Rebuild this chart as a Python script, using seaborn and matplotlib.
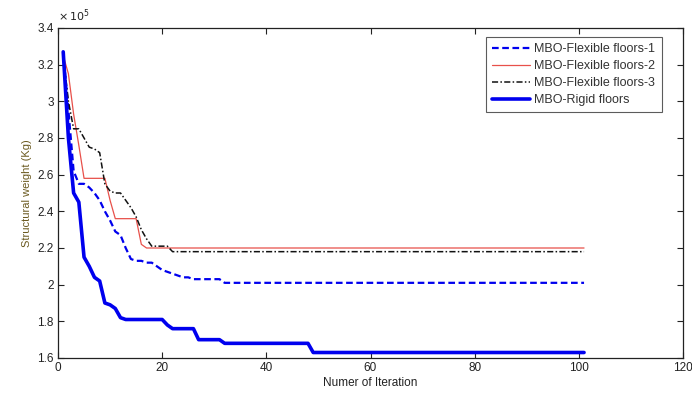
import numpy as np
import pandas as pd
import matplotlib
matplotlib.use("Agg")
import matplotlib.pyplot as plt
import seaborn as sns
from matplotlib.ticker import FuncFormatter, MultipleLocator

iterations = list(range(1, 102))

rigid_head = [3.27, 2.80, 2.50, 2.45, 2.15, 2.10, 2.04, 2.02, 1.90, 1.89, 1.87, 1.82,
              1.81, 1.81, 1.81, 1.81, 1.81, 1.81, 1.81, 1.81, 1.78,
              1.76, 1.76, 1.76, 1.76, 1.76,
              1.70, 1.70, 1.70, 1.70, 1.70,
              1.68, 1.68, 1.68, 1.68, 1.68, 1.68, 1.68, 1.68, 1.68, 1.68, 1.68, 1.68,
              1.68, 1.68, 1.68, 1.68, 1.68]
rigid_tail = 1.63

flex1_head = [3.27, 2.95, 2.62, 2.55, 2.55, 2.53, 2.50, 2.46, 2.40, 2.35, 2.29, 2.27,
              2.20, 2.14, 2.13, 2.13, 2.12, 2.12, 2.10, 2.08, 2.07, 2.06, 2.05, 2.04,
              2.04, 2.03, 2.03, 2.03, 2.03, 2.03, 2.03]
flex1_tail = 2.01

flex2_head = [3.25, 3.15, 2.93, 2.76, 2.58, 2.58, 2.58, 2.58, 2.58, 2.46, 2.36, 2.36,
              2.36, 2.36, 2.36, 2.22]
flex2_tail = 2.20

flex3_head = [3.25, 3.00, 2.85, 2.85, 2.80, 2.75, 2.74, 2.72, 2.55, 2.51, 2.50, 2.50,
              2.46, 2.42, 2.37, 2.30, 2.25, 2.21, 2.21, 2.21, 2.21]
flex3_tail = 2.18

labels = ["MBO-Flexible floors-1", "MBO-Flexible floors-2",
          "MBO-Flexible floors-3", "MBO-Rigid floors"]


def full(head, tail):
    vals = list(head) + [tail] * (len(iterations) - len(head))
    return [v * 1e5 for v in vals]


series = {
    labels[0]: full(flex1_head, flex1_tail),
    labels[1]: full(flex2_head, flex2_tail),
    labels[2]: full(flex3_head, flex3_tail),
    labels[3]: full(rigid_head, rigid_tail),
}

rows = []
for name, vals in series.items():
    for it, v in zip(iterations, vals):
        rows.append({"Iteration": it, "Weight": v, "Series": name})
df = pd.DataFrame(rows)

sns.set_theme(style="white")
plt.rcParams['font.family'] = ['Liberation Sans', 'DejaVu Sans']

fig = plt.figure(figsize=(6.92, 3.98), dpi=100)
ax = fig.add_axes([58 / 692, 40 / 398, 625 / 692, 330 / 398])

styles = {
    labels[0]: dict(color="#0000ee", lw=1.6, ls=(0, (3, 1.6))),
    labels[1]: dict(color="#e8504a", lw=0.9, ls="-"),
    labels[2]: dict(color="#111111", lw=1.1, ls=(0, (4, 1.5, 1, 1.5))),
    labels[3]: dict(color="#0000ee", lw=2.6, ls="-"),
}

for name in labels:
    sub = df[df["Series"] == name]
    st = styles[name]
    sns.lineplot(data=sub, x="Iteration", y="Weight", ax=ax, color=st["color"],
                 linewidth=st["lw"], linestyle=st["ls"], label=name)

ax.set_xlim(0, 120)
ax.set_ylim(1.6e5, 3.4e5)
ax.xaxis.set_major_locator(MultipleLocator(20))
ax.yaxis.set_major_locator(MultipleLocator(0.2e5))
ax.yaxis.set_major_formatter(FuncFormatter(lambda v, p: f"{v / 1e5:g}"))

ax.tick_params(direction="in", length=4, width=0.8, top=True, right=True,
               labelsize=8.5, colors="#222222", pad=3)
ax.tick_params(axis="both", which="both", bottom=True, left=True)
for sp in ax.spines.values():
    sp.set_color("#222222")
    sp.set_linewidth(0.9)

ax.set_xlabel("Numer of Iteration", fontsize=8.5, color="#222222", labelpad=2)
ax.set_ylabel("Structural weight (Kg)", fontsize=8, color="#6b5a20", labelpad=4)
ax.text(0.0, 1.012, r"$\times\,10^5$", transform=ax.transAxes, fontsize=8,
        color="#222222", ha="left", va="bottom")

leg = ax.legend(loc="upper right", bbox_to_anchor=(0.966, 0.973), fontsize=9,
                frameon=True, fancybox=False, edgecolor="#333333",
                handlelength=3.0, borderpad=0.5, labelspacing=0.4, handletextpad=0.4,
                borderaxespad=0.0)
leg.get_frame().set_linewidth(0.8)
for t in leg.get_texts():
    t.set_color("#333333")

fig.savefig("out.png", dpi=100, facecolor="white")
